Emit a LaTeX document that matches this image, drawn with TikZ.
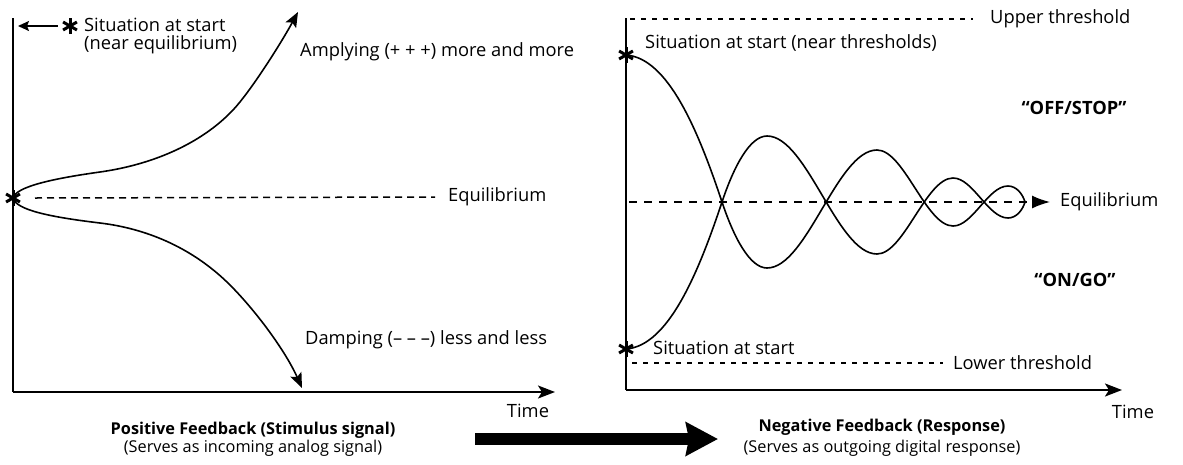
\documentclass[tikz,border=0pt]{standalone}
\usepackage{fontspec}
\setmainfont{Open Sans}
\usetikzlibrary{arrows.meta}
\begin{document}
\begin{tikzpicture}[x=1pt,y=-1pt,
  lbl/.style={font=\fontsize{18.3}{21}\selectfont, inner sep=0pt},
  blbl/.style={font=\fontsize{18.3}{21}\selectfont\bfseries, inner sep=0pt},
  captext/.style={font=\fontsize{16.3}{19}\selectfont, inner sep=0pt},
  bcaptext/.style={font=\fontsize{16.3}{19}\selectfont\bfseries, inner sep=0pt},
  axisline/.style={line width=2pt},
  axisarrow/.style={line width=2pt, -{Stealth[length=17pt,width=13pt,inset=4pt]}},
  curve/.style={line width=1.6pt},
  curvearrow/.style={line width=1.6pt, -{Stealth[length=15pt,width=12pt,inset=3pt]}},
  dashL/.style={line width=1.5pt, dash pattern=on 7pt off 5pt},
  dashT/.style={line width=1.3pt, dash pattern=on 5pt off 6pt},
  dashE/.style={line width=1.5pt, dash pattern=on 8pt off 7pt},
  starmark/.style={circle, minimum size=20pt, inner sep=0pt,
    path picture={
      \draw[line width=3pt] ([shift={(90:8)}]path picture bounding box.center) -- ([shift={(270:8)}]path picture bounding box.center);
      \draw[line width=3pt] ([shift={(30:8)}]path picture bounding box.center) -- ([shift={(210:8)}]path picture bounding box.center);
      \draw[line width=3pt] ([shift={(150:8)}]path picture bounding box.center) -- ([shift={(330:8)}]path picture bounding box.center);
    }},
]
\useasboundingbox (0,0) rectangle (1183,464);

% ---------- left panel ----------
\coordinate (Ltop) at (13,18);
\coordinate (Lo) at (13,392);
\coordinate (Lx) at (555,392);
\draw[axisline] (Ltop) -- (Lo);
\draw[axisarrow] (Lo) -- (Lx);
\node[lbl] (ltime) at (528,411) {Time};

\node[starmark] (s1) at (70,26) {};
\coordinate (ltip) at (18,26);
\draw[line width=1.6pt, -{Stealth[length=11pt,width=10pt,inset=2pt]}] ([xshift=-2pt]s1.west) -- (ltip);
\node[lbl, anchor=west] (lsit) at (84,25) {Situation at start};
\node[lbl, anchor=west] (lnear) at (84,45) {(near equilibrium)};

\node[starmark] (s2) at (13,198) {};
\node[lbl, anchor=west] (leq) at (448,197) {Equilibrium};
\coordinate (leqs) at (35,198);
\draw[dashL] (leqs) -- ([xshift=-13pt]leq.west);

\coordinate (uptip) at (298,12);
\coordinate (lowtip) at (302,388);
\draw[curvearrow] (s2.center) .. controls (16,187) and (50,179) .. (100,172)
  .. controls (150,165) and (200,145) .. (233,110)
  .. controls (250,92) and (280,45) .. (uptip);
\draw[curvearrow] (s2.center) .. controls (16,210) and (50,217) .. (100,223)
  .. controls (150,229) and (195,250) .. (230,285)
  .. controls (255,310) and (285,350) .. (lowtip);

\node[lbl, anchor=west] (amp) at (300,52) {Amplying (+ + +) more and more};
\node[lbl, anchor=west] (damp) at (305,340) {Damping (– – –) less and less};

\node[bcaptext] (pf) at (253,430) {Positive Feedback (Stimulus signal)};
\node[captext] (pfs) at (253,448) {(Serves as incoming analog signal)};

% ---------- big arrow ----------
\coordinate (ba1) at (475,439);
\coordinate (ba2) at (718,439);
\draw[line width=12pt, -{Stealth[length=32pt,width=33pt,inset=3pt]}] (ba1) -- (ba2);

% ---------- right panel ----------
\coordinate (Rtop) at (626,18);
\coordinate (Ro) at (626,390);
\coordinate (Rx) at (1122,390);
\draw[axisline] (Rtop) -- (Ro);
\draw[axisarrow] (Ro) -- (Rx);
\node[lbl] (rtime) at (1133,412) {Time};

\node[lbl, anchor=west] (uth) at (990,19) {Upper threshold};
\coordinate (uths) at (630,19);
\draw[dashT] (uths) -- ([xshift=-17pt]uth.west);
\node[lbl, anchor=west] (lth) at (953,363) {Lower threshold};
\coordinate (lths) at (632,363);
\draw[dashT] (lths) -- ([xshift=-10pt]lth.west);

\node[lbl, anchor=west] (rsit1) at (645,43) {Situation at start (near thresholds)};
\node[lbl, anchor=west] (rsit2) at (653,348) {Situation at start};
\node[blbl] (off) at (1074,108) {“OFF/STOP”};
\node[blbl] (on) at (1075,280) {“ON/GO”};

\node[lbl, anchor=west] (req) at (1060,202) {Equilibrium};
\coordinate (reqs) at (629,202);
\draw[dashE, -{Latex[length=18pt,width=13pt]}] (reqs) -- ([xshift=-10pt]req.west);

\node[starmark] (s3) at (626,55) {};
\node[starmark] (s4) at (626,349) {};
\coordinate (rend) at (1025,202);
\draw[curve] (s3.center) .. controls (668,58) and (698,130) .. (722,202)
  .. controls (734,238) and (750,268) .. (767,268)
  .. controls (807,268) and (837,150) .. (877,150)
  .. controls (904,150) and (926,226) .. (953,226)
  .. controls (973,226) and (988,186) .. (1008,186)
  .. controls (1017,186) and (1023,195) .. (rend);
\draw[curve] (s4.center) .. controls (668,346) and (698,274) .. (722,202)
  .. controls (734,166) and (750,136) .. (767,136)
  .. controls (807,136) and (837,254) .. (877,254)
  .. controls (904,254) and (926,178) .. (953,178)
  .. controls (973,178) and (988,218) .. (1008,218)
  .. controls (1017,218) and (1023,209) .. (rend);

\node[bcaptext] (nf) at (882,427) {Negative Feedback (Response)};
\node[captext] (nfs) at (882,448) {(Serves as outgoing digital response)};
\end{tikzpicture}
\end{document}
